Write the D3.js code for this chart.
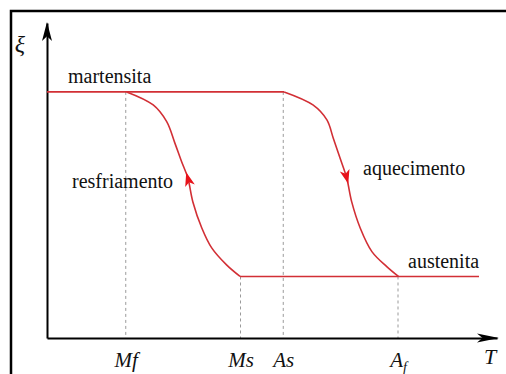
<!DOCTYPE html>
<html>
<head>
<meta charset="utf-8">
<script src="https://cdn.jsdelivr.net/npm/d3@7"></script>
<style>
  body { margin: 0; background: #fff; }
  svg { display: block; }
</style>
</head>
<body>
<script>
// transformation temperatures (arbitrary T units) and their labels
var tickNames = ["Mf", "Ms", "As", "Af"];
var tickTemps = [17.5, 43, 52.5, 78];

// phase fraction levels
var martensiteLine = [[0, 1], [52.7, 1]];
var austeniteLine = [[42.9, 0.25], [96, 0.25]];

// cooling branch (Mf -> Ms)
var coolingCurve = [
  [17.7, 1.0], [23.6, 0.947], [26.6, 0.879], [28.4, 0.793], [29.9, 0.717],
  [31.3, 0.65], [32.4, 0.554], [34.4, 0.447], [36.6, 0.366], [39.9, 0.297], [42.9, 0.25]
];
// heating branch (As -> Af)
var heatingCurve = [
  [52.7, 1.0], [59.1, 0.947], [62.2, 0.886], [63.6, 0.813], [65.1, 0.732],
  [66.6, 0.65], [67.7, 0.554], [69.6, 0.447], [72.2, 0.351], [75.5, 0.29], [78.1, 0.25]
];

var width = 506, height = 374;
var red = "#d22f35";
var serif = "'Liberation Serif', 'DejaVu Serif', Tinos, 'Nimbus Roman', 'Nimbus Roman No9 L', FreeSerif, 'Noto Serif', 'Times New Roman', Times, Georgia, serif";

var svg = d3.select("body").append("svg")
  .attr("width", width)
  .attr("height", height);

// outer frame (runs off the right and bottom edge like the source image)
svg.append("rect")
  .attr("x", 11).attr("y", 11)
  .attr("width", 520).attr("height", 400)
  .attr("fill", "none").attr("stroke", "#000").attr("stroke-width", 2.5);

var x = d3.scaleLinear().domain([0, 100]).range([47, 497]);
var y = d3.scaleLinear().domain([0, 1.28]).range([338, 23]);

// dashed guides from the curves down to the T axis
var guideTop = [1, 0.25, 1, 0.25];
svg.selectAll(".guide")
  .data(tickTemps)
  .enter().append("line")
  .attr("class", "guide")
  .attr("x1", function(d){ return x(d); })
  .attr("x2", function(d){ return x(d); })
  .attr("y1", function(d, i){ return y(guideTop[i]); })
  .attr("y2", y(0))
  .attr("stroke", "#9a9a9a")
  .attr("stroke-width", 1)
  .attr("stroke-dasharray", "3,3");

// axes
var xAxis = svg.append("g")
  .attr("transform", "translate(0," + y(0) + ")")
  .call(d3.axisBottom(x).tickValues(tickTemps).tickSize(0).tickSizeOuter(0).tickPadding(14));
xAxis.attr("font-family", null);
xAxis.select(".domain").attr("stroke", "#000").attr("stroke-width", 2);
xAxis.selectAll(".tick text")
  .attr("font-family", serif)
  .attr("font-style", "italic")
  .attr("font-size", 21)
  .attr("fill", "#111")
  .attr("dy", "0.71em")
  .text(null)
  .each(function(d, i){
    var t = d3.select(this);
    if (tickNames[i] == "Af") {
      t.append("tspan").text("A");
      t.append("tspan").text("f").attr("dy", 5).attr("font-size", 14);
    } else {
      t.text(tickNames[i]);
    }
  });

var yAxis = svg.append("g")
  .attr("transform", "translate(" + x(0) + ",0)")
  .call(d3.axisLeft(y).tickValues([]).tickSizeOuter(0));
yAxis.select(".domain").attr("stroke", "#000").attr("stroke-width", 2);

function arrowHead(px, py, angle, len, half, color) {
  // tip at (px,py), pointing in direction angle (radians)
  var p = "M0,0L" + (-len) + "," + (-half) + "L" + (-len * 0.75) + ",0L" + (-len) + "," + half + "Z";
  svg.append("path")
    .attr("d", p)
    .attr("fill", color)
    .attr("transform", "translate(" + px + "," + py + ") rotate(" + (angle * 180 / Math.PI) + ")");
}
arrowHead(x(100) + 2, y(0), 0, 22, 4.5, "#000");
arrowHead(x(0), y(1.28) - 1, -Math.PI / 2, 19, 5, "#000");

// axis names
svg.append("text").attr("x", 20).attr("y", 52)
  .attr("text-anchor", "middle")
  .attr("font-family", serif).attr("font-style", "italic").attr("font-size", 24)
  .attr("fill", "#111")
  .text("ξ");
svg.append("text").attr("x", 490).attr("y", 364)
  .attr("text-anchor", "middle")
  .attr("font-family", serif).attr("font-style", "italic").attr("font-size", 22)
  .attr("fill", "#111")
  .text("T");

// phase lines and hysteresis branches
var line = d3.line()
  .x(function(d){ return x(d[0]); })
  .y(function(d){ return y(d[1]); });
var smooth = d3.line()
  .x(function(d){ return x(d[0]); })
  .y(function(d){ return y(d[1]); })
  .curve(d3.curveCatmullRom.alpha(0.5));

[martensiteLine, austeniteLine].forEach(function(d){
  svg.append("path").attr("d", line(d))
    .attr("fill", "none").attr("stroke", red).attr("stroke-width", 1.6);
});
[coolingCurve, heatingCurve].forEach(function(d){
  svg.append("path").attr("d", smooth(d))
    .attr("fill", "none").attr("stroke", red).attr("stroke-width", 1.6);
});

// direction arrows on the branches
function branchArrow(curve, i, up) {
  var a = curve[i - 1], b = curve[i + 1];
  var dx = x(b[0]) - x(a[0]), dy = y(b[1]) - y(a[1]);
  var ang = Math.atan2(dy, dx);
  if (up) ang += Math.PI;
  var cx = x(curve[i][0]), cy = y(curve[i][1]);
  arrowHead(cx + 6 * Math.cos(ang), cy + 6 * Math.sin(ang), ang, 14, 5, "#e8121a");
}
branchArrow(coolingCurve, 5, true);
branchArrow(heatingCurve, 5, false);

// phase / process labels
var labels = [
  {t: "martensita", x: 68, y: 83},
  {t: "resfriamento", x: 72, y: 188},
  {t: "aquecimento", x: 363, y: 175},
  {t: "austenita", x: 408, y: 268}
];
svg.selectAll(".lbl")
  .data(labels)
  .enter().append("text")
  .attr("class", "lbl")
  .attr("x", function(d){ return d.x; })
  .attr("y", function(d){ return d.y; })
  .attr("font-family", serif)
  .attr("font-size", 20)
  .attr("fill", "#111")
  .text(function(d){ return d.t; });
</script>
</body>
</html>
